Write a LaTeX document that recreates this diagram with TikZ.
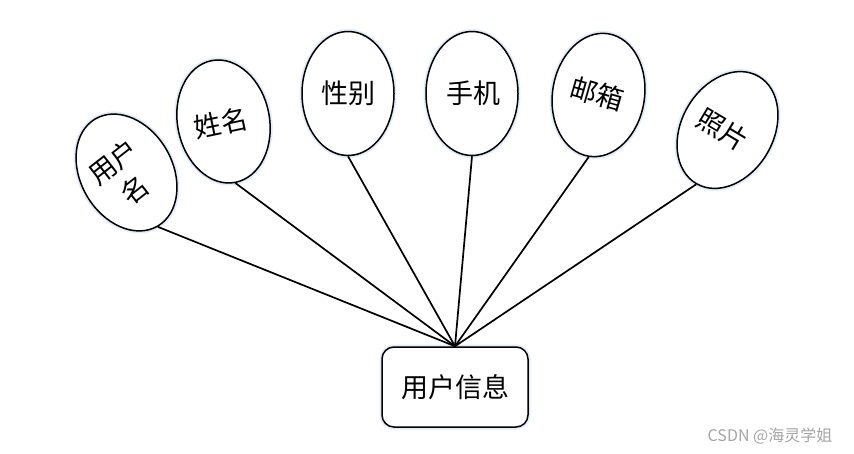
\documentclass[tikz,border=0pt]{standalone}
\usepackage{fontspec}
\usetikzlibrary{shapes.geometric}
\newfontfamily\cjk{Noto Sans CJK SC}
\begin{document}
\begin{tikzpicture}[x=1pt,y=-1pt,
  glow/.style={preaction={draw={rgb,255:red,226;green,236;blue,250},line width=5pt}},
  ell/.style={ellipse, draw=black, line width=1.5pt, fill=white, glow,
              minimum width=92pt, minimum height=124pt, inner sep=0pt},
  lbl/.style={font=\cjk\fontsize{27}{35}\selectfont, align=center, inner sep=0pt},
  entity/.style={draw=black, line width=1.5pt, fill=white, glow, rounded corners=12pt,
                 minimum width=146pt, minimum height=80pt, font=\cjk\fontsize{27}{30}\selectfont},
  conn/.style={line width=1.7pt, black}]
\useasboundingbox (0,0) rectangle (854,454);
\fill[white] (0,0) rectangle (854,454);
% entity
\node[entity] (r) at (455,387) {用户信息};
% attribute ellipses
\node[ell, rotate=30]  (e1) at (126.5,172.5) {};
\node[ell, rotate=11]  (e2) at (223.5,121.5) {};
\node[ell]             (e3) at (348,93.5) {};
\node[ell]             (e4) at (472,93.5) {};
\node[ell, rotate=-9]  (e5) at (598.5,95) {};
\node[ell, rotate=-30] (e6) at (727.5,130) {};
% labels
\node[lbl, rotate=38]  (t1) at (124,176) {用户\\名};
\node[lbl, rotate=12]  (t2) at (221,123) {姓名};
\node[lbl]             (t3) at (348,93) {性别};
\node[lbl]             (t4) at (473,93) {手机};
\node[lbl, rotate=-16] (t5) at (597,94) {邮箱};
\node[lbl, rotate=-31] (t6) at (723,130) {照片};
% connectors
\foreach \e in {e1,e2,e3,e4,e5,e6}
  \draw[conn] (r.north) -- (\e.south);
% watermark
\node[font=\cjk\fontsize{16}{18}\selectfont, text={rgb,255:red,165;green,165;blue,165}, inner sep=0pt] (wm) at (770,436) {CSDN @海灵学姐};
\end{tikzpicture}
\end{document}
